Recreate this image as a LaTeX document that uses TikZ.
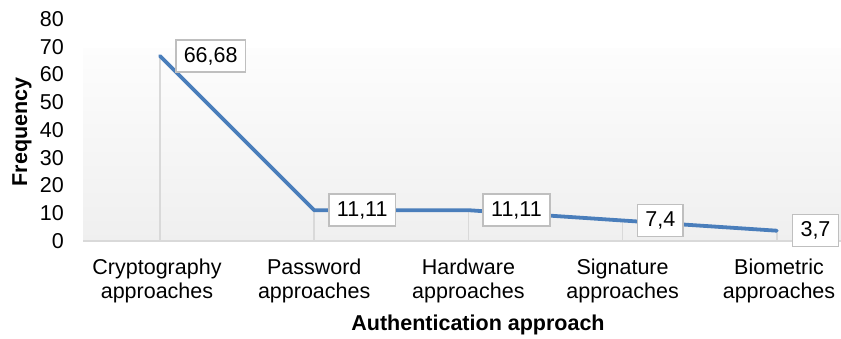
\documentclass[tikz,border=0pt]{standalone}
\usepackage{fontspec}
\setmainfont{Liberation Sans}
\definecolor{lineblue}{HTML}{4A7EBB}
\definecolor{gridgray}{HTML}{D9D9D9}
\definecolor{boxgray}{HTML}{BFBFBF}
\definecolor{bgtop}{HTML}{FDFDFD}
\definecolor{bgbot}{HTML}{EFEFEF}
\begin{document}
\begin{tikzpicture}[x=1pt,y=-1pt,
  every node/.style={font=\fontsize{21.5}{24}\selectfont, text=black},
  tick/.style={anchor=east, inner sep=0pt},
  catlabel/.style={align=center, inner sep=0pt},
  datalabel/.style={draw=boxgray, line width=1.5pt, fill=white, anchor=west,
    minimum height=32pt, inner xsep=8pt, inner ysep=0pt},
  dropline/.style={draw=gridgray, line width=1.5pt},
  series/.style={draw=lineblue, line width=3.8pt, line join=round, line cap=round},
  axtitle/.style={font=\fontsize{21.5}{24}\selectfont\bfseries, inner sep=0pt}]
\useasboundingbox (0,0) rectangle (841,338);
% plot area background
\shade[top color=bgtop, bottom color=bgbot] (83,48) rectangle (841,241);
% axis
\coordinate (axL) at (83,241);
\coordinate (axR) at (841,241);
\draw[dropline] (axL) -- (axR);
% data points (0 at y=241, 27.75 px per 10)
\coordinate (p1) at (160,56.0);
\coordinate (p2) at (314.2,210.2);
\coordinate (p3) at (468.4,210.2);
\coordinate (p4) at (622.6,220.5);
\coordinate (p5) at (776.8,230.7);
\coordinate (b1) at (160,241);
\coordinate (b2) at (314.2,241);
\coordinate (b3) at (468.4,241);
\coordinate (b4) at (622.6,241);
\coordinate (b5) at (776.8,241);
\foreach \i in {1,...,5} \draw[dropline] (p\i) -- (b\i);
\draw[series] (p1) -- (p2) -- (p3) -- (p4) -- (p5);
% data labels
\node[datalabel] (l1) at ([xshift=15pt]p1) {66,68};
\node[datalabel] (l2) at ([xshift=14pt]p2) {11,11};
\node[datalabel] (l3) at ([xshift=14pt]p3) {11,11};
\node[datalabel] (l4) at ([xshift=14pt]p4) {7,4};
\node[datalabel] (l5) at ([xshift=15pt]p5) {3,7};
% y ticks
\foreach \v [count=\k from 0] in {0,10,20,30,40,50,60,70,80}
  \node[tick] (t\k) at (64,{241-27.75*\k}) {\v};
% category labels
\node[catlabel] (c1) at (157,281) {Cryptography\\approaches};
\node[catlabel] (c2) at (314.2,281) {Password\\approaches};
\node[catlabel] (c3) at (468.4,281) {Hardware\\approaches};
\node[catlabel] (c4) at (622.6,281) {Signature\\approaches};
\node[catlabel] (c5) at (779,281) {Biometric\\approaches};
% axis titles
\node[axtitle] (xt) at (478,325) {Authentication approach};
\node[axtitle, rotate=90] (yt) at (22,132) {Frequency};
\end{tikzpicture}
\end{document}
